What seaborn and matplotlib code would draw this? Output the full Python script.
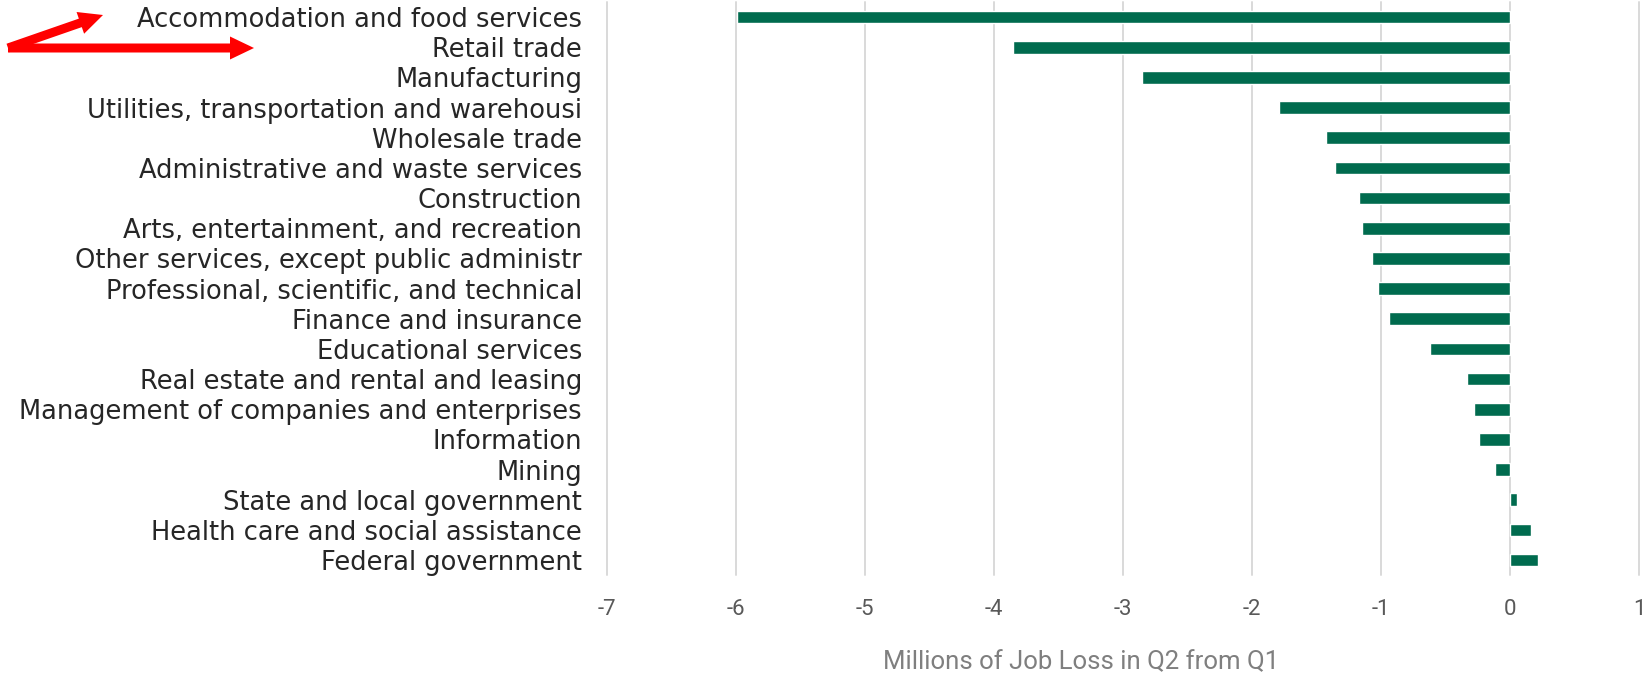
import matplotlib
matplotlib.use("Agg")
import matplotlib.pyplot as plt
from matplotlib.patches import FancyArrow
import seaborn as sns

categories = [
    "Accommodation and food services",
    "Retail trade",
    "Manufacturing",
    "Utilities, transportation and warehousi",
    "Wholesale trade",
    "Administrative and waste services",
    "Construction",
    "Arts, entertainment, and recreation",
    "Other services, except public administr",
    "Professional, scientific, and technical",
    "Finance and insurance",
    "Educational services",
    "Real estate and rental and leasing",
    "Management of companies and enterprises",
    "Information",
    "Mining",
    "State and local government",
    "Health care and social assistance",
    "Federal government",
]
job_change = [
    -5.99, -3.85, -2.85, -1.79, -1.43, -1.36, -1.17, -1.15, -1.07, -1.02,
    -0.94, -0.62, -0.33, -0.28, -0.24, -0.12, 0.05, 0.16, 0.22,
]
x_ticks = [-7, -6, -5, -4, -3, -2, -1, 0, 1]
x_label = "Millions of Job Loss in Q2 from Q1"

sns.set_theme(style="white")
plt.rcParams["font.family"] = ["DejaVu Sans"]

fig = plt.figure(figsize=(16.45, 6.79), dpi=100)
ax = fig.add_axes([0.369, 0.153, 0.6274, 0.844])

sns.barplot(x=job_change, y=categories, orient="h", color="#006B4E",
            saturation=1, width=0.42, ax=ax, zorder=3)

ax.set_xlim(-7, 1)
ax.set_ylim(len(categories) - 0.5, -0.5)
ax.set_xticks(x_ticks)
ax.set_xticklabels([str(t) for t in x_ticks], family="Roboto")
for t in x_ticks:
    ax.axvline(t, color="#D9D9D9", lw=1.4, zorder=1, clip_on=False)
for s in ax.spines.values():
    s.set_visible(False)
ax.tick_params(axis="x", length=0, pad=17, labelsize=16, labelcolor="#595959")
ax.tick_params(axis="y", length=0, pad=18, labelsize=18.5, labelcolor="#262626")
ax.set_ylabel("")
ax.set_xlabel(x_label, fontsize=18.5, color="#7F7F7F", family="Roboto",
              va="center")
ax.xaxis.set_label_coords(0.459, -0.152)

# red arrows pointing at the two largest losses
arrow_kw = dict(width=0.09, head_width=0.23, head_length=0.24,
                length_includes_head=True, color="#FF0000", lw=0,
                transform=fig.dpi_scale_trans)
fig.add_artist(FancyArrow(0.08, 6.31, 0.95, 0.33, **arrow_kw))
fig.add_artist(FancyArrow(0.08, 6.31, 2.46, 0.0, **arrow_kw))

fig.savefig("out.png", dpi=100)
